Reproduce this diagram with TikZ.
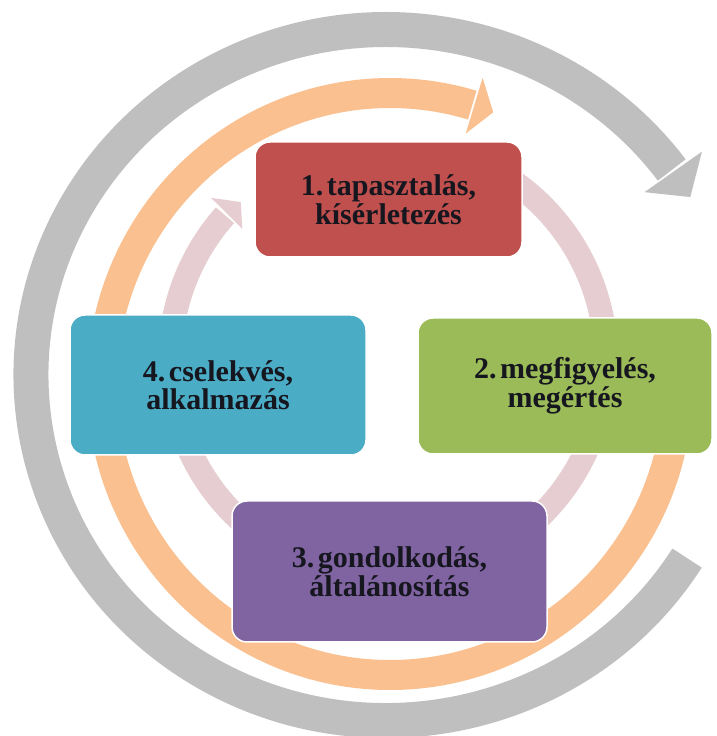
\documentclass[tikz,border=0pt]{standalone}
\usepackage{fontspec}
\setmainfont{Liberation Serif}
\definecolor{graycol}{HTML}{BFBFBF}
\definecolor{orangecol}{HTML}{FAC08F}
\definecolor{pinkcol}{HTML}{E6CDD1}
\definecolor{redcol}{HTML}{C0504D}
\definecolor{greencol}{HTML}{9BBB59}
\definecolor{bluecol}{HTML}{4BACC6}
\definecolor{purplecol}{HTML}{8064A2}
\definecolor{txtcol}{HTML}{16161F}
\newcommand{\nsp}{\hspace{0.12em}}
\begin{document}
\begin{tikzpicture}[x=1pt,y=1pt,
  box/.style={rounded corners=15pt, draw=white, line width=1.5pt, align=center,
    font=\fontsize{30}{28.5}\selectfont\bfseries, text=txtcol, inner sep=0pt}]
\useasboundingbox (0,0) rectangle (716,736);
\clip (0,0) rectangle (716,736);
\fill[white] (0,0) rectangle (716,736);
\coordinate (gc) at (386,361);
\coordinate (oc) at (390,352);
\coordinate (pc) at (388,376);
% gray outer circular arrow
\draw[line width=35pt, graycol] ([shift={(-32:355pt and 345.5pt)}]gc)
  arc[start angle=-32, end angle=-323.6, x radius=355pt, y radius=345.5pt];
\fill[graycol] ([shift={(36:319.5pt and 311pt)}]gc) -- ([shift={(36:390.5pt and 380pt)}]gc)
  -- ([shift={(31:355pt and 345.5pt)}]gc) -- cycle;
% orange circular arrow
\draw[line width=30pt, orangecol] ([shift={(0:288pt and 291pt)}]oc)
  arc[start angle=0, end angle=-286.6, x radius=288pt, y radius=291pt];
\fill[orangecol] ([shift={(73:259.2pt and 261.9pt)}]oc) -- ([shift={(73:316.8pt and 320.1pt)}]oc)
  -- ([shift={(69:288pt and 291pt)}]oc) -- cycle;
% pink inner circular arrow
\draw[line width=24pt, pinkcol] ([shift={(60:218pt)}]pc)
  arc[start angle=60, end angle=-221.6, radius=218pt];
\fill[pinkcol] ([shift={(138:196pt)}]pc) -- ([shift={(137.5:240pt)}]pc)
  -- ([shift={(133:216pt)}]pc) -- cycle;
% boxes
\node[box, fill=redcol, minimum width=267pt, minimum height=115pt] (n1) at (388.5,536.5)
  {1.\nsp tapasztalás,\\kísérletezés};
\node[box, fill=greencol, minimum width=294pt, minimum height=136pt] (n2) at (565,350)
  {2.\nsp megfigyelés,\\megértés};
\node[box, fill=purplecol, minimum width=315pt, minimum height=141pt] (n3) at (389.5,164.5)
  {3.\nsp gondolkodás,\\általánosítás};
\node[box, fill=bluecol, minimum width=296pt, minimum height=140pt] (n4) at (218,351)
  {4.\nsp cselekvés,\\alkalmazás};
\end{tikzpicture}
\end{document}
